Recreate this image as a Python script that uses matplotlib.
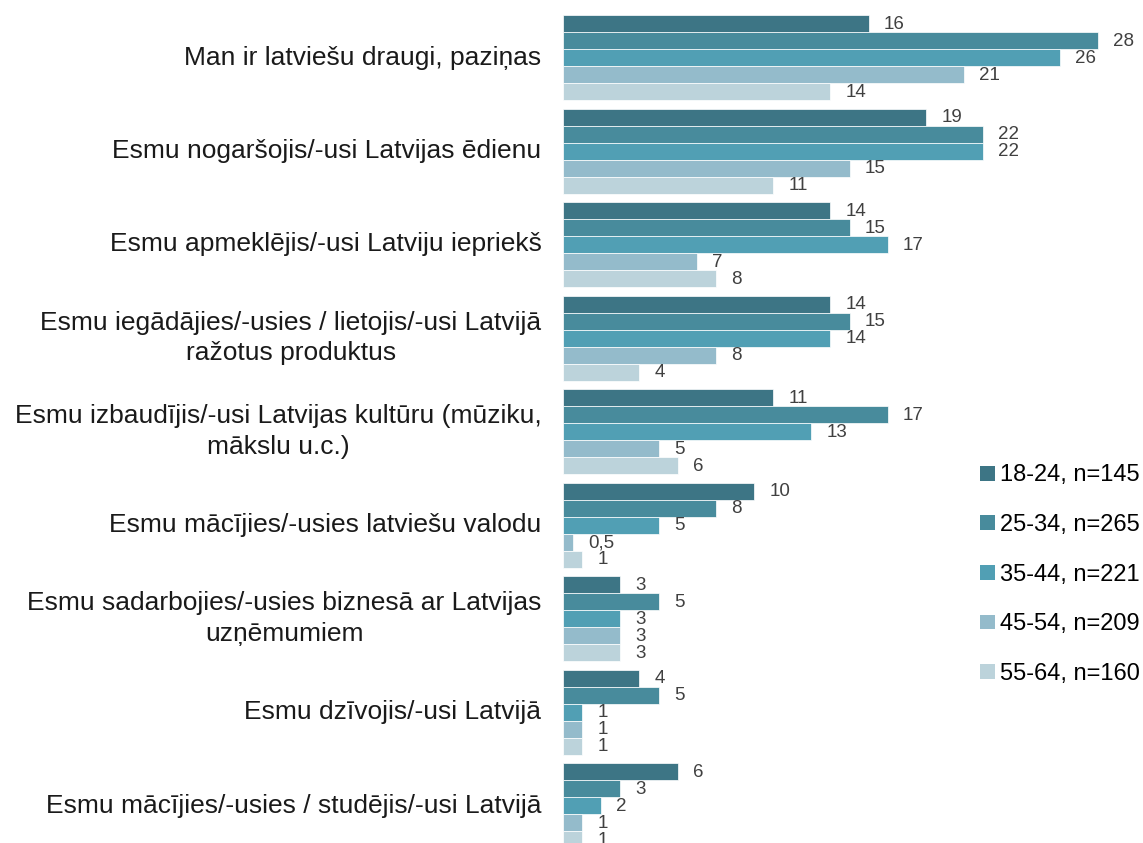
import matplotlib
matplotlib.use("Agg")
import matplotlib.pyplot as plt
from matplotlib.patches import Patch

plt.rcParams['font.family'] = ['Liberation Sans', 'DejaVu Sans']

categories = [
    "Man ir latviešu draugi, paziņas",
    "Esmu nogaršojis/-usi Latvijas ēdienu",
    "Esmu apmeklējis/-usi Latviju iepriekš",
    "Esmu iegādājies/-usies / lietojis/-usi Latvijā\nražotus produktus",
    "Esmu izbaudījis/-usi Latvijas kultūru (mūziku,\nmākslu u.c.)",
    "Esmu mācījies/-usies latviešu valodu",
    "Esmu sadarbojies/-usies biznesā ar Latvijas\nuzņēmumiem",
    "Esmu dzīvojis/-usi Latvijā",
    "Esmu mācījies/-usies / studējis/-usi Latvijā",
]

series_names = ["18-24, n=145", "25-34, n=265", "35-44, n=221", "45-54, n=209", "55-64, n=160"]

age_18_24 = [16, 19, 14, 14, 11, 10, 3, 4, 6]
age_25_34 = [28, 22, 15, 15, 17, 8, 5, 5, 3]
age_35_44 = [26, 22, 17, 14, 13, 5, 3, 1, 2]
age_45_54 = [21, 15, 7, 8, 5, 0.5, 3, 1, 1]
age_55_64 = [14, 11, 8, 4, 6, 1, 3, 1, 1]

series_values = [age_18_24, age_25_34, age_35_44, age_45_54, age_55_64]
colors = ["#3d7585", "#488b9c", "#519fb4", "#94bbcb", "#bcd3db"]

W, H = 1143, 843
fig = plt.figure(figsize=(W / 100, H / 100), dpi=100)
ax = fig.add_axes([563 / W, 0, 1 - 563 / W, 1])

px_per_unit_x = 19.1
px_per_unit_y = 17.0
group_pitch = 5.5

for s, (vals, col) in enumerate(zip(series_values, colors)):
    for i, v in enumerate(vals):
        y = i * group_pitch + s + 0.5
        ax.barh(y, v, height=1.0, color=col, edgecolor="#ffffff", linewidth=0.5)
        txt = f"{v:g}".replace(".", ",")
        ax.annotate(txt, xy=(v, y), xytext=(11.0, -0.7), textcoords="offset points",
                    ha="left", va="center", fontsize=13.5, color="#404040")

for i, cat in enumerate(categories):
    yc = i * group_pitch + 2.5
    ax.annotate(cat, xy=(0, yc), xycoords=("axes fraction", "data"),
                xytext=(-15.5, 0), textcoords="offset points",
                ha="right", va="center", multialignment="center",
                fontsize=19, color="#1a1a1a", linespacing=1.35,
                annotation_clip=False)

ax.set_xlim(0, (W - 563) / px_per_unit_x)
top = -15 / px_per_unit_y
ax.set_ylim(top + H / px_per_unit_y, top)
ax.axis("off")

handles = [Patch(facecolor=c, edgecolor="none") for c in colors]
fig.legend(handles, series_names, loc="upper left",
           bbox_to_anchor=(971 / W, 1 - 455 / H), frameon=False,
           fontsize=17, handlelength=0.6, handleheight=0.6,
           handletextpad=0.22, labelspacing=1.17, borderaxespad=0)

fig.savefig("out.png", dpi=100)
